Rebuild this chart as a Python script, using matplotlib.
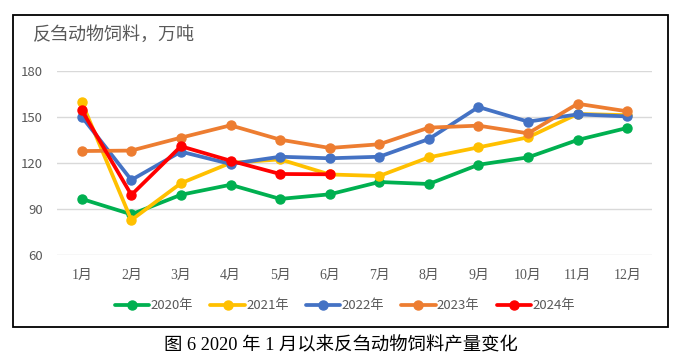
import matplotlib
matplotlib.use("Agg")
import matplotlib.pyplot as plt
from matplotlib.patches import Rectangle

months = ["1月", "2月", "3月", "4月", "5月", "6月", "7月", "8月", "9月", "10月", "11月", "12月"]
series_names = ["2020年", "2021年", "2022年", "2023年", "2024年"]
v2020 = [96.6, 86.6, 99.3, 105.8, 96.6, 99.6, 107.6, 106.3, 118.8, 123.6, 134.9, 142.7]
v2021 = [159.4, 82.9, 106.8, 120.0, 122.3, 112.5, 111.5, 123.6, 130.1, 136.6, 151.8, 151.0]
v2022 = [150.0, 108.9, 127.3, 119.3, 124.0, 123.0, 124.0, 135.5, 156.3, 146.8, 151.5, 150.2]
v2023 = [127.7, 128.0, 136.4, 144.4, 135.1, 129.7, 132.1, 142.9, 144.2, 139.2, 158.4, 153.5]
v2024 = [154.2, 99.2, 130.8, 121.4, 112.8, 112.6]
yticks = [60, 90, 120, 150, 180]
colors = ["#00B050", "#FFC000", "#4472C4", "#ED7D31", "#FF0000"]

cjk = ["Noto Sans CJK SC", "DejaVu Sans"]
serif_cjk = ["Liberation Serif", "Noto Sans CJK SC"]

fig = plt.figure(figsize=(6.89, 3.61), dpi=100)
ax = fig.add_axes([0.0827, 0.2928, 0.9463 - 0.0827, 0.8047 - 0.2928])

x = list(range(len(months)))
for name, vals, c in zip(series_names, [v2020, v2021, v2022, v2023, v2024], colors):
    ax.plot(x[:len(vals)], vals, color=c, lw=2.7, marker="o", markersize=6.5,
            label=name, solid_capstyle="round", solid_joinstyle="round")

ax.set_xlim(-0.5, len(months) - 0.5)
ax.set_ylim(60, 180)
ax.set_yticks(yticks)
ax.set_yticklabels([str(t) for t in yticks], family=cjk, fontsize=9.5, color="#595959")
ax.set_xticks(x)
ax.set_xticklabels(months, family=serif_cjk, fontsize=10, color="#595959")
ax.tick_params(axis="both", length=0)
ax.tick_params(axis="y", pad=10)
ax.tick_params(axis="x", pad=10)
ax.grid(axis="y", color="#D9D9D9", lw=1)
ax.set_axisbelow(True)
for s in ax.spines.values():
    s.set_visible(False)

fig.text(33 / 689, 1 - 35 / 361, "反刍动物饲料，万吨", family=cjk, fontsize=13,
         color="#595959", ha="left", va="center")

leg = fig.legend(loc="center", bbox_to_anchor=(345 / 689, 1 - 306 / 361), ncol=5,
                 frameon=False, prop={"family": cjk, "size": 9.5},
                 handlelength=2.6, handletextpad=0.1, columnspacing=1.3)
for t in leg.get_texts():
    t.set_color("#595959")

fig.patches.append(Rectangle((13 / 689, 1 - 327 / 361), (668 - 13) / 689, (327 - 14.7) / 361,
                             transform=fig.transFigure, fill=False, edgecolor="black", lw=1.3))

fig.text(341 / 689, 1 - 345 / 361, "图 6 2020 年 1 月以来反刍动物饲料产量变化",
         family=serif_cjk, fontsize=13.2, color="black", ha="center", va="center")

fig.savefig("out.png", dpi=100)
